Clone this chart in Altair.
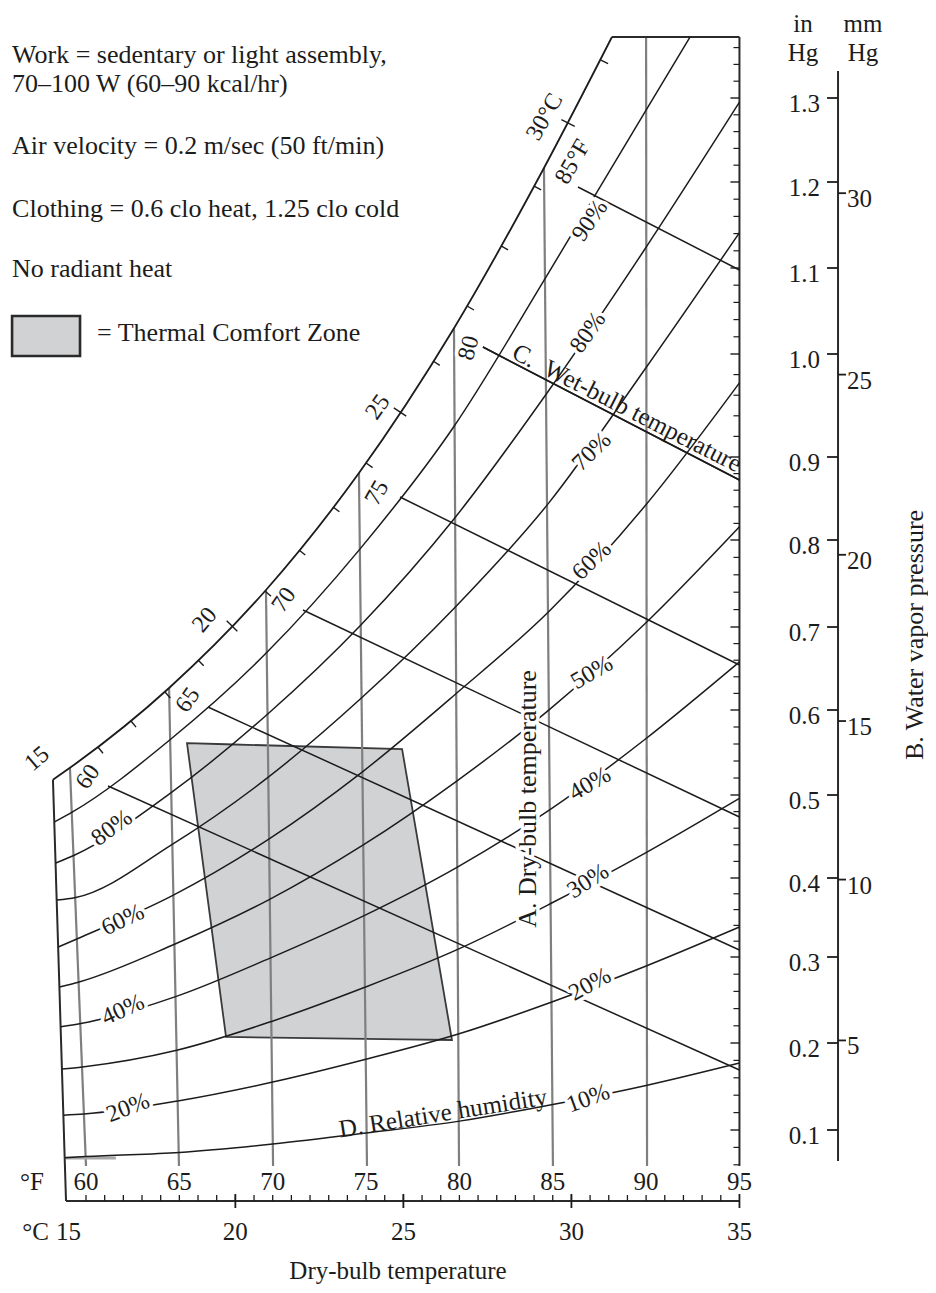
import altair as alt
import pandas as pd

FONT = "Liberation Serif"
INK = "#1c1c1c"

# ---------------- data: dry-bulb temperature (deg F) vs water-vapour pressure (in Hg) ----------------
SAT_F = [58.23, 59.14, 64.45, 69.64, 74.62, 79.71, 84.53, 88.17]
SAT_P = [0.518, 0.532, 0.6265, 0.7425, 0.8807, 1.030, 1.2167, 1.3726]

RH90_F = [58.31, 59.28, 64.50, 69.64, 74.67, 79.68, 84.71, 89.83, 92.35]
RH90_P = [0.4675, 0.4796, 0.5650, 0.6683, 0.7895, 0.9289, 1.0920, 1.2794, 1.3726]
RH80_F = [58.38, 59.37, 64.56, 69.69, 74.71, 79.72, 84.75, 89.85, 95.0]
RH80_P = [0.418, 0.4274, 0.5028, 0.5944, 0.7020, 0.8257, 0.9636, 1.1192, 1.295]
RH70_F = [58.44, 59.45, 64.62, 69.73, 74.75, 79.76, 84.79, 89.87, 95.0]
RH70_P = [0.372, 0.3753, 0.4405, 0.5204, 0.6145, 0.7225, 0.8447, 0.9835, 1.141]
RH60_F = [58.52, 59.54, 64.68, 69.77, 74.79, 79.80, 84.82, 89.89, 95.0]
RH60_P = [0.3127, 0.3231, 0.3783, 0.4465, 0.5270, 0.6193, 0.7184, 0.8397, 0.972]
RH50_F = [58.58, 59.63, 64.74, 69.81, 74.83, 79.84, 84.85, 89.91, 95.0]
RH50_P = [0.265, 0.2709, 0.3161, 0.3726, 0.4395, 0.5161, 0.6011, 0.7031, 0.816]
RH40_F = [58.65, 59.72, 64.80, 69.86, 74.87, 79.87, 84.89, 89.93, 95.0]
RH40_P = [0.219, 0.2227, 0.2539, 0.2987, 0.3520, 0.4128, 0.4829, 0.5653, 0.658]
RH30_F = [58.71, 59.81, 64.86, 69.90, 74.90, 79.91, 84.92, 89.95, 95.0]
RH30_P = [0.170, 0.1725, 0.1917, 0.2248, 0.2645, 0.3096, 0.368, 0.430, 0.496]
RH20_F = [58.79, 59.89, 64.92, 69.94, 74.94, 79.94, 84.95, 89.97, 95.0]
RH20_P = [0.117, 0.1184, 0.1334, 0.1548, 0.1810, 0.2104, 0.2477, 0.2893, 0.338]
RH10_F = [58.87, 59.98, 65.0, 70.0, 75.0, 80.0, 85.0, 90.0, 95.0]
RH10_P = [0.068, 0.0695, 0.0742, 0.0839, 0.0965, 0.1102, 0.1293, 0.1512, 0.177]

# wet-bulb lines (start after their label, end on the 95 F edge)
WB_NAMES = ["60", "65", "70", "75", "80", "85"]
WB_START_F = [61.18, 66.53, 71.62, 76.82, 81.26, 86.35]
WB_START_P = [0.5106, 0.6036, 0.7195, 0.8518, 1.0081, 1.1942]
WB_END_F = [95.0, 95.0, 95.0, 95.0, 95.0, 95.0]
WB_END_P = [0.169, 0.3089, 0.4735, 0.6542, 0.8723, 1.0977]

# dry-bulb lines
DB_NAMES = [60, 65, 70, 75, 80, 85, 90]
DB_BOTTOM_F = [60.0, 64.98, 70.02, 75.05, 79.98, 85.01, 90.05]
DB_TOP_F = [59.14, 64.45, 69.64, 74.62, 79.71, 84.53, 90.0]
DB_TOP_P = [0.532, 0.6265, 0.7425, 0.8807, 1.030, 1.2167, 1.3726]
DB_BOTTOM_P = 0.0586

# thermal comfort zone (quadrilateral)
ZONE_F = [65.41, 67.50, 76.93, 79.60]
ZONE_TOP = [0.561, 0.5597, 0.554, 0.2035]
ZONE_BOTTOM = [0.561, 0.207, 0.2043, 0.2035]

# 1 deg C marks on the saturation curve
SATTICK_F = [60.64, 62.41, 64.23, 66.0, 67.82, 69.59, 71.41, 73.23, 75.0, 76.82,
             78.59, 80.41, 82.23, 84.0, 85.82, 87.58]
SATTICK_P = [0.5565, 0.5871, 0.6217, 0.6602, 0.7011, 0.7414, 0.7885, 0.8398, 0.8928,
             0.9437, 0.9932, 1.0558, 1.1256, 1.1953, 1.2702, 1.3452]
SATTICK_MAJOR = [False, False, False, False, True, False, False, False, False, True,
                 False, False, False, False, True, False]

# axes
Y_TICKS = [0.1, 0.2, 0.3, 0.4, 0.5, 0.6, 0.7, 0.8, 0.9, 1.0, 1.1, 1.2, 1.3]
F_LABELS = [60, 65, 70, 75, 80, 85, 90, 95]
C_LABELS = ["15", "20", "25", "30", "35"]
C_AT_F = [59.06, 68.0, 77.0, 86.0, 95.0]
MM_LABELS = ["5", "10", "15", "20", "25", "30"]
MM_AT_INHG = [0.203, 0.398, 0.587, 0.783, 0.980, 1.187]

LEGEND_LINES = ["Work = sedentary or light assembly,", "70\u2013100 W (60\u201390 kcal/hr)",
                "Air velocity = 0.2 m/sec (50 ft/min)", "Clothing = 0.6 clo heat, 1.25 clo cold",
                "No radiant heat"]
LEGEND_P = [1.3512, 1.3167, 1.2429, 1.1686, 1.0988]

RH_LABELS = ["90%", "80%", "70%", "60%", "50%", "40%", "30%", "20%", "10%",
             "80%", "60%", "40%", "20%"]
RH_LABEL_F = [87.0, 86.9, 87.1, 87.1, 87.1, 87.0, 86.9, 87.0, 86.9, 61.39, 61.98, 61.98, 62.25]
RH_LABEL_P = [1.155, 1.025, 0.905, 0.776, 0.645, 0.513, 0.396, 0.268, 0.136,
              0.4602, 0.3468, 0.2384, 0.1253]

WB_LABELS = ["60", "65", "70", "75", "80", "85\u00b0F"]
WB_LABEL_F = [60.11, 65.46, 70.61, 75.59, 80.51, 86.08]
WB_LABEL_P = [0.5212, 0.612, 0.731, 0.8566, 1.007, 1.2238]

SATC_LABELS = ["15", "20", "25", "30\u00b0C"]
SATC_LABEL_F = [57.38, 66.37, 75.64, 84.58]
SATC_LABEL_P = [0.5424, 0.708, 0.9485, 1.2774]

# ---------------- layout constants (pixels / styles) ----------------
W, H = 920, 1277
X_RANGE = [78, 731.45]
Y_RANGE = [1122, 1035, 949, 870, 787, 702, 619, 532, 449, 346, 260, 174, 90]
RH_LABEL_ANG = [305, 305, 315, 316, 330, 330, 327, 331, 340, 324, 335, 336, 339]
WB_LABEL_ANG = [305, 305, 305, 300, 285, 300]
SATC_LABEL_ANG = [320, 310, 305, 300]
SATTICK_ANG = [51, 51, 48, 45, 45, 42, 39, 37, 35, 34, 33, 30, 29, 28, 27, 27]

XS = alt.Scale(domain=[60, 95], range=X_RANGE, zero=False, nice=False)
YS = alt.Scale(domain=Y_TICKS, range=Y_RANGE, zero=False, nice=False)


def xe(f="F"):
    return alt.X(f"{f}:Q", scale=XS, axis=None)


def ye(f="P"):
    return alt.Y(f"{f}:Q", scale=YS, axis=None)


def segs(rows):
    return pd.DataFrame(rows, columns=["id", "F", "P"])


# ---------------- tables ----------------
rh_rows = []
for name, fs, ps in [(90, RH90_F, RH90_P), (80, RH80_F, RH80_P), (70, RH70_F, RH70_P),
                     (60, RH60_F, RH60_P), (50, RH50_F, RH50_P), (40, RH40_F, RH40_P),
                     (30, RH30_F, RH30_P), (20, RH20_F, RH20_P), (10, RH10_F, RH10_P)]:
    for f, p in zip(fs, ps):
        rh_rows.append((f"rh{name}", f, p))
rh_df = segs(rh_rows)
sat_df = segs([("sat", f, p) for f, p in zip(SAT_F, SAT_P)])

wb_rows = []
for n, f0, p0, f1, p1 in zip(WB_NAMES, WB_START_F, WB_START_P, WB_END_F, WB_END_P):
    wb_rows += [(f"wb{n}", f0, p0), (f"wb{n}", f1, p1)]
wb_df = segs(wb_rows)
wb80_df = wb_df[wb_df["id"] == "wb80"]

db_rows = []
for n, fb, ft, pt in zip(DB_NAMES, DB_BOTTOM_F, DB_TOP_F, DB_TOP_P):
    db_rows += [(f"db{n}", fb, DB_BOTTOM_P), (f"db{n}", ft, pt)]
db_df = segs(db_rows)

frame_df = segs([
    ("left", 58.23, 0.518), ("left", 58.93, 0.0184),
    ("right", 95.0, 1.3726), ("right", 95.0, 0.0586),
    ("top", 88.17, 1.3726), ("top", 95.0, 1.3726),
    ("xaxis", 58.93, 0.0184), ("xaxis", 95.0, 0.0184),
    ("yaxis", 100.28, 0.0644), ("yaxis", 100.28, 1.332),
])
base_df = segs([("base", 58.93, 0.0678), ("base", 61.6, 0.0678)])

zone_df = pd.DataFrame({"F": ZONE_F, "top": ZONE_TOP, "bottom": ZONE_BOTTOM})
box_df = pd.DataFrame({"x1": [56.04], "x2": [59.68], "y1": [1.0442], "y2": [0.9981]})

sattick_df = pd.DataFrame({"F": SATTICK_F, "P": SATTICK_P, "ang": SATTICK_ANG, "major": SATTICK_MAJOR})
edge_vals = [round(0.06 + 0.02 * i, 2) for i in range(66)]
edge_df = pd.DataFrame({"F": 95.0, "P": edge_vals,
                        "major": [abs(v * 10 - round(v * 10)) < 1e-6 for v in edge_vals]})
xminor_df = pd.DataFrame({"F": list(range(60, 95)), "P": 0.0184})
xmajor_df = pd.DataFrame({"F": [68, 77, 86, 95], "P": 0.0184})
inhg_df = pd.DataFrame({"F": 100.28, "P": Y_TICKS, "text": [f"{v:.1f}" for v in Y_TICKS]})
mm_df = pd.DataFrame({"F": 100.28, "P": MM_AT_INHG, "text": MM_LABELS})

# centered labels
lab_rows = []
for t, f, p, a in zip(RH_LABELS, RH_LABEL_F, RH_LABEL_P, RH_LABEL_ANG):
    lab_rows.append((t, f, p, a, 24, True))
for t, f, p, a in zip(WB_LABELS, WB_LABEL_F, WB_LABEL_P, WB_LABEL_ANG):
    lab_rows.append((t, f, p, a, 24, True))
for t, f, p, a in zip(SATC_LABELS, SATC_LABEL_F, SATC_LABEL_P, SATC_LABEL_ANG):
    lab_rows.append((t, f, p, a, 24, False))
lab_rows += [
    ("C.\u00a0\u00a0Wet-bulb temperature", 88.98, 0.9476, 27, 25, False),
    ("D. Relative humidity", 79.12, 0.1195, 351, 25, False),
    ("A. Dry-bulb temperature", 83.67, 0.4952, 270, 26, True),
    ("B. Water vapor pressure", 104.40, 0.6904, 270, 26, False),
    ("Dry-bulb temperature", 76.71, -0.0625, 0, 25, False),
    ("\u00b0F", 57.10, 0.0402, 0, 25, False),
    ("\u00b0C", 57.30, -0.0172, 0, 25, False),
    ("in", 98.40, 1.3881, 0, 25, False),
    ("Hg", 98.40, 1.3536, 0, 25, False),
    ("mm", 101.62, 1.3881, 0, 25, False),
    ("Hg", 101.62, 1.3536, 0, 25, False),
]
for v in F_LABELS:
    lab_rows.append((str(v), float(v), 0.0402, 0, 25, False))
for t, f in zip(C_LABELS, C_AT_F):
    lab_rows.append((t, f, -0.0172, 0, 25, False))
lab_df = pd.DataFrame(lab_rows, columns=["text", "F", "P", "ang", "size", "halo"])
halo_df = lab_df[lab_df["halo"]]

legend_df = pd.DataFrame({"text": LEGEND_LINES + ["= Thermal Comfort Zone"],
                          "F": [56.04] * 5 + [60.59],
                          "P": LEGEND_P + [1.0244]})

# ---------------- layers ----------------
zone = alt.Chart(zone_df).mark_area(fill="#d1d2d4", stroke="#3a3a3a", strokeWidth=1.8).encode(
    x=xe("F"), y=ye("top"), y2=alt.Y2("bottom"))
box = alt.Chart(box_df).mark_rect(fill="#d1d2d4", stroke="#2a2a2a", strokeWidth=2.6).encode(
    x=xe("x1"), x2=alt.X2("x2"), y=ye("y1"), y2=alt.Y2("y2"))

dry = alt.Chart(db_df).mark_line(color="#7f7f7f", strokeWidth=2.2).encode(
    x=xe(), y=ye(), detail="id:N")
frame = alt.Chart(frame_df).mark_line(color="#2a2a2a", strokeWidth=2).encode(
    x=xe(), y=ye(), detail="id:N")
base = alt.Chart(base_df).mark_line(color="#a8a8a8", strokeWidth=3).encode(x=xe(), y=ye(), detail="id:N")

rh = alt.Chart(rh_df).mark_line(color=INK, strokeWidth=1.5, interpolate="monotone").encode(
    x=xe(), y=ye(), detail="id:N")
wb = alt.Chart(wb_df).mark_line(color=INK, strokeWidth=1.5).encode(x=xe(), y=ye(), detail="id:N")
wb80 = alt.Chart(wb80_df).mark_line(color=INK, strokeWidth=1.5).encode(x=xe(), y=ye(), detail="id:N")
sat = alt.Chart(sat_df).mark_line(color=INK, strokeWidth=1.8, interpolate="monotone").encode(
    x=xe(), y=ye(), detail="id:N")


def ticks(df, shape, size, width=1.3, angle=None):
    enc = dict(x=xe(), y=ye())
    if angle:
        enc["angle"] = alt.Angle(f"{angle}:Q", scale=None)
    return alt.Chart(df).mark_point(shape=shape, size=size, filled=False, color=INK,
                                    strokeWidth=width, opacity=1).encode(**enc)


sat_minor = ticks(sattick_df[~sattick_df["major"]], "M0,0L1,0", 256, 1.4, angle="ang")
sat_major = ticks(sattick_df[sattick_df["major"]], "M-1,0L1,0", 225, 1.4, angle="ang")
edge_minor = ticks(edge_df[~edge_df["major"]], "M-1,0L0,0", 144, 1.2)
edge_major = ticks(edge_df[edge_df["major"]], "M-1,0L0,0", 324, 1.4)
x_minor = ticks(xminor_df, "M0,-1L0,0", 144, 1.3)
x_major = ticks(xmajor_df, "M0,-1L0,1", 196, 1.8)
inhg_t = ticks(inhg_df, "M-1,0L0,0", 484, 1.8)
mm_t = ticks(mm_df, "M0,0L1,0", 256, 1.8)


def text_layer(df, align="center", color=INK, **kw):
    return alt.Chart(df).mark_text(font=FONT, align=align, baseline="middle", color=color, **kw).encode(
        x=xe(), y=ye(), text="text:N",
        angle=alt.Angle("ang:Q", scale=None), size=alt.Size("size:Q", scale=None))


halos = text_layer(halo_df, color="white", stroke="white", strokeWidth=7, strokeJoin="round")
labels = text_layer(lab_df)

legend = alt.Chart(legend_df).mark_text(font=FONT, fontSize=26, align="left", baseline="middle",
                                        color=INK).encode(x=xe(), y=ye(), text="text:N")
inhg_lab = alt.Chart(inhg_df).mark_text(font=FONT, fontSize=25, align="right", baseline="middle",
                                        color=INK, dx=-18, dy=6).encode(x=xe(), y=ye(), text="text:N")
mm_lab = alt.Chart(mm_df).mark_text(font=FONT, fontSize=25, align="left", baseline="middle",
                                    color=INK, dx=9, dy=6).encode(x=xe(), y=ye(), text="text:N")

chart = alt.layer(
    zone, box, dry, frame, base, rh, wb, sat,
    sat_minor, sat_major, edge_minor, edge_major, x_minor, x_major, inhg_t, mm_t,
    halos, wb80, labels, legend, inhg_lab, mm_lab,
).properties(
    width=W, height=H, padding=0, autosize=alt.AutoSizeParams(type="none")
).configure_view(stroke=None)

chart.save("out.html", embed_options={"renderer": "svg", "actions": False})
